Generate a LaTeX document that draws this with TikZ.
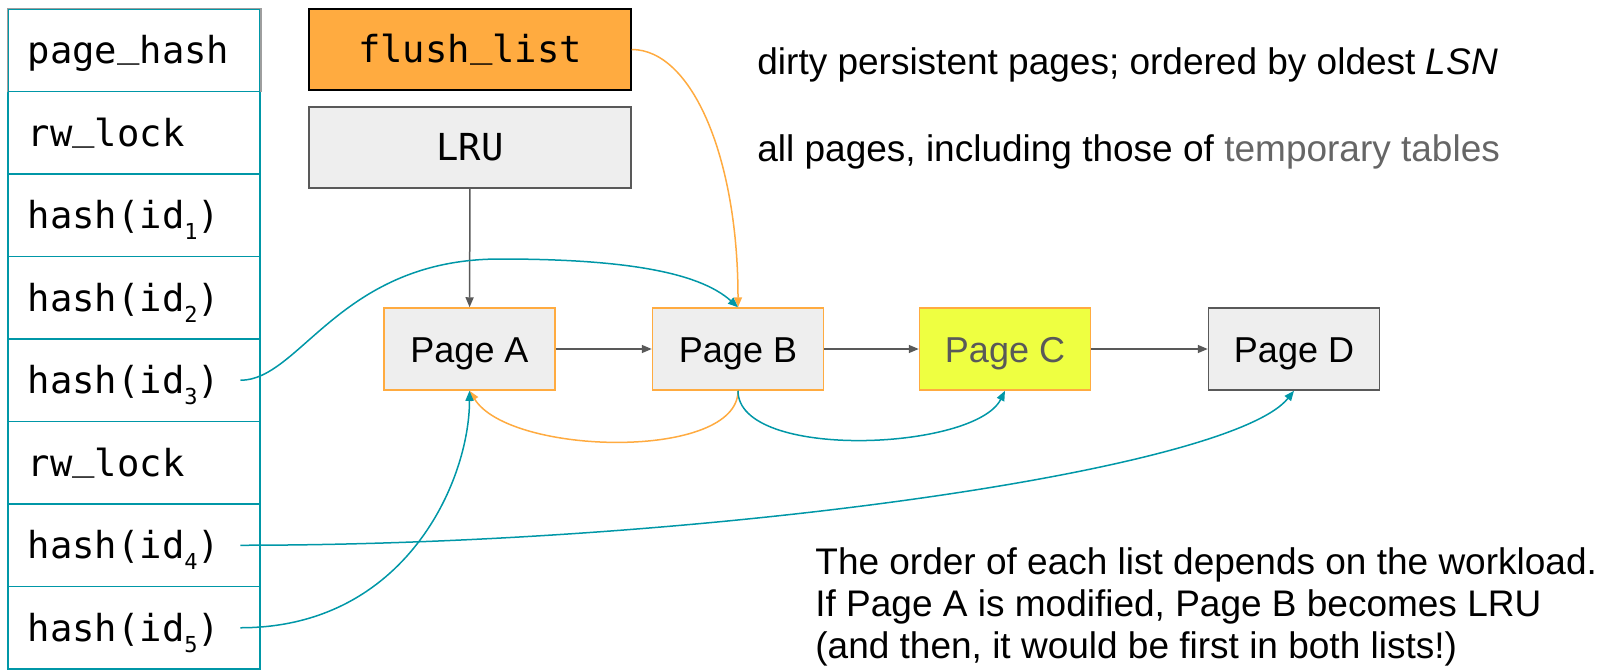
\documentclass[tikz,border=0pt]{standalone}
\usepackage{fontspec}
\setmainfont{Liberation Sans}
\setmonofont{DejaVu Sans Mono}
\usetikzlibrary{arrows.meta}

\definecolor{hashteal}{HTML}{0097A7}
\definecolor{flushorange}{HTML}{FFAB40}
\definecolor{pagegray}{HTML}{EEEEEE}
\definecolor{edgegray}{HTML}{595959}
\definecolor{tempgray}{HTML}{666666}
\definecolor{hotyellow}{HTML}{EEFF41}
\definecolor{cellgray}{HTML}{9E9E9E}

% small lowered index inside the hash cells
\newcommand{\idx}[1]{\raisebox{-.55ex}{\fontsize{11}{11}\selectfont #1}}
% underscore sitting on the baseline
\newcommand{\us}{\raisebox{.18em}{\_}}

\tikzset{
  cell/.style={draw=hashteal, line width=.75pt, minimum width=126pt,
    minimum height=41.25pt, inner sep=0pt},
  celltext/.style={anchor=west, inner sep=10pt, text height=13.4pt, text depth=0pt,
    font=\ttfamily\fontsize{18.6}{18.6}\selectfont},
  listbox/.style={draw=black, line width=.75pt, minimum width=161pt,
    minimum height=40.5pt, text height=13.4pt, text depth=0pt,
    font=\ttfamily\fontsize{18.6}{18.6}\selectfont},
  page/.style={draw=flushorange, fill=pagegray, line width=.75pt,
    minimum width=85.5pt, minimum height=41pt, text height=13.7pt, text depth=0pt,
    font=\fontsize{18}{18}\selectfont},
  note/.style={anchor=west, inner sep=0pt, font=\fontsize{18.5}{21}\selectfont},
  link/.style={line width=.75pt, -{Triangle[length=5pt,width=4pt]}},
}

\begin{document}
\begin{tikzpicture}[x=0.5pt, y=-0.5pt]
\useasboundingbox (0,0) rectangle (1604,669);

% Hash table column
\foreach \i/\txt in {1/page\us hash, 2/rw\us lock, 3/hash(id\idx{1}), 4/hash(id\idx{2}),
    5/hash(id\idx{3}), 6/rw\us lock, 7/hash(id\idx{4}), 8/hash(id\idx{5})}
  \path (134,{9+82.5*(\i-.5)}) node[cell] (c\i) {}
    (c\i.west) node[celltext] (h\i) {\txt};
\draw[cellgray, line width=.75pt] (c1.south west) |- (c1.north east) -- (c1.south east);

% List heads
\path (470,49.5) node[listbox, fill=flushorange] (flush) {flush\us list}
  (470,147.5) node[listbox, draw=edgegray, fill=pagegray] (lru) {LRU};

% Pages
\path (469.5,349) node[page] (pa) {Page A}
  +(268.5,0) node[page] (pb) {Page B}
  +(535.5,0) node[page, fill=hotyellow, text=edgegray] (pc) {Page C}
  +(824.5,0) node[page, draw=edgegray] (pd) {Page D};

% Notes
\path (757,64.5) node[note] (dirty) {dirty persistent pages; ordered by oldest \textit{LSN}}
  (757,152) node[note] (all) {all pages, including those of \textcolor{tempgray}{temporary tables}};
\node[note, align=left] (order) at (815,607)
  {The order of each list depends on the workload.\\
   If Page A is modified, Page B becomes LRU\\
   (and then, it would be first in both lists!)};

% LRU list
\draw[link, edgegray] (lru) -- (pa);
\draw[link, edgegray] (pa) -- (pb);
\draw[link, edgegray] (pb) -- (pc);
\draw[link, edgegray] (pc) -- (pd);

% flush list
\draw[link, flushorange] (flush.east) .. controls +(60,0) and +(0,-150) .. (pb.north);
\draw[link, flushorange] (pb.south) .. controls +(0,70) and +(40,65) .. (pa.south);

% hash chains
\draw[link, hashteal] (h5.east) .. controls +(60,0) and +(-160,0) .. (500,259)
  .. controls +(120,0) and +(-40,-36) .. (pb.north);
\draw[link, hashteal] (pb.south) .. controls +(0,70) and +(-30,60) .. (pc.south);
\draw[link, hashteal] (h7.east) .. controls +(460,0) and +(-64,80) .. (pd.south);
\draw[link, hashteal] (h8.east) .. controls +(165,0) and +(0,90) .. (pa.south);

\end{tikzpicture}
\end{document}
